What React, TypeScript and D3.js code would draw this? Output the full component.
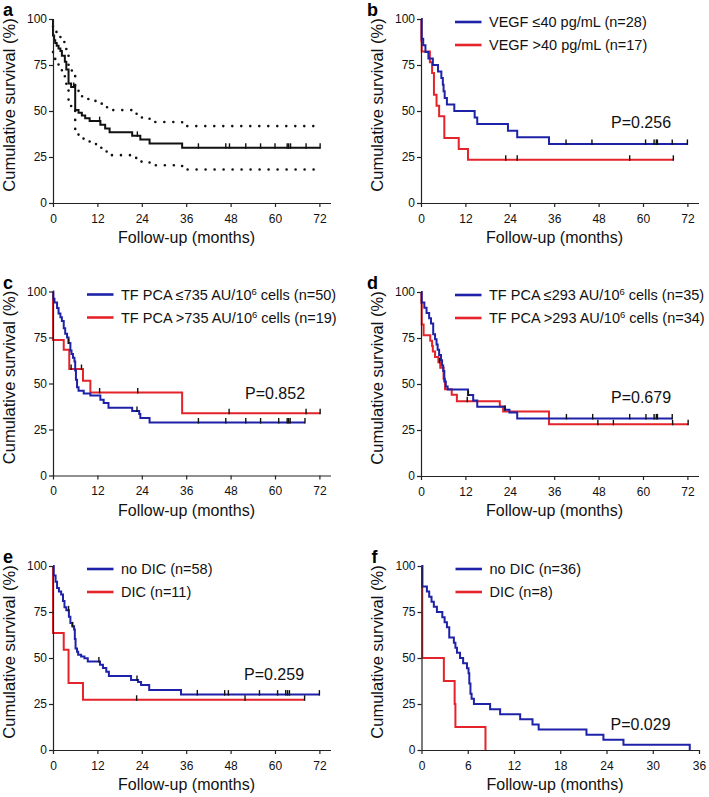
import React, { useEffect, useRef } from 'react';
import * as d3 from 'd3';

const BLUE = '#1e22a8';
const RED = '#e4232a';
const BLACK = '#111';
const FONT = '"Liberation Sans", Arial, Helvetica, sans-serif';

const yTicks = [0, 25, 50, 75, 100];
const xTicks72 = [0, 12, 24, 36, 48, 60, 72];
const xTicks36 = [0, 6, 12, 18, 24, 30, 36];

// a: whole cohort with 95% CI
const aTimes = [0, 0.3, 0.6, 1.0, 1.5, 2.0, 2.4, 3.2, 3.6, 4.2, 4.9, 6.0, 6.9, 7.8, 8.7, 9.9, 12.8, 14.1, 15.3, 21.4, 23.6, 26.1, 34.9];
const aSurv = [91, 88.4, 87, 85.5, 84, 82.6, 80, 76.8, 72.5, 65, 63, 50.5, 49, 47.5, 46, 44.5, 42.5, 40.5, 38.5, 36.5, 34.5, 32.3, 30];
const aUpper = [96, 94, 93, 92, 91, 90, 87.5, 85, 81, 74, 72, 61, 59, 58, 56.5, 55.5, 54, 52, 50.5, 48.5, 46.5, 44, 41.8];
const aLower = [82, 79, 78, 76.5, 75, 73, 70.5, 67, 62, 54, 52, 38, 36.5, 35, 33.5, 32, 30, 28, 26, 24.5, 22.5, 20.5, 18.2];
const aCensor = [5.6, 12.6, 22.8, 39.3, 46.7, 47.7, 52.1, 56.1, 60, 63.3, 63.7, 64.2, 68.4, 72.2];

// b: VEGF
const bBlueTimes = [0.2, 0.6, 1.2, 2.0, 3.2, 4.6, 5.5, 5.9, 6.1, 6.4, 7.0, 9.0, 14.5, 15.2, 23.5, 26.0, 34.6];
const bBlueSurv = [89.3, 85.7, 82.1, 78.6, 75, 71.4, 67.9, 64.3, 60.7, 57.1, 53.6, 50, 46.4, 42.9, 39.3, 35.7, 32.1];
const bBlueCensor = [39.2, 46.2, 60.7, 63.0, 63.6, 63.9, 67.9, 72];
const bRedTimes = [0.1, 0.2, 2.4, 3.0, 3.5, 4.2, 4.9, 6.3, 10.2, 12.7];
const bRedSurv = [88.2, 82.4, 76.5, 70.6, 58.8, 52.9, 47.1, 35.3, 29.4, 23.5];
const bRedCensor = [22.9, 26.0, 56.4, 68.2];

// c: TF PCA 735
const cBlueTimes = [0.1, 0.4, 1.1, 1.5, 2.0, 2.4, 2.9, 3.3, 3.8, 4.2, 4.7, 5.0, 5.4, 5.8, 6.0, 6.2, 6.5, 6.9, 8.3, 10.1, 12.8, 13.7, 15.0, 21.4, 23.3, 23.6, 26.1];
const cBlueSurv = [96, 94, 91, 88, 86, 84, 80, 77, 75, 72, 68, 66, 64, 62, 57, 52, 48, 46, 44.5, 43.5, 41.2, 39.4, 36.8, 35, 33.4, 31.3, 28.8];
const cBlueCensor = [4.2, 22.7, 39.3, 46.7, 52.1, 56.1, 61, 63.3, 63.7, 64.1, 68.1];
const cRedTimes = [0, 2.9, 4.4, 8.1, 10.1, 34.9];
const cRedSurv = [73.7, 68.4, 57.9, 51.5, 45.1, 33.8];
const cRedCensor = [4.9, 7.7, 12.6, 22.9, 47.6, 68.4, 72.2];

// d: TF PCA 293
const dBlueTimes = [0.2, 0.9, 1.5, 2.2, 2.7, 3.3, 3.8, 4.2, 4.5, 4.9, 5.4, 5.7, 6.0, 6.3, 6.7, 7.2, 12.7, 14.1, 15.2, 22.7, 23.9, 26.0];
const dBlueSurv = [94.3, 91.4, 88.6, 85.7, 82.9, 77.1, 74.3, 71.4, 68.6, 65.7, 62.9, 60, 57.1, 51.4, 48.6, 47, 44, 41, 37.6, 36, 34.5, 31.3];
const dBlueCensor = [12.8, 22.7, 39.3, 46.4, 56.4, 60.8, 63.0, 63.6, 63.9, 67.9];
const dRedTimes = [0.1, 0.2, 0.7, 2.5, 3.0, 3.2, 3.8, 4.7, 5.2, 6.1, 6.5, 8.3, 9.7, 21.3, 22.2, 34.6];
const dRedSurv = [94.1, 82.4, 76.5, 73.5, 70.6, 67.6, 64.7, 61.8, 58.8, 52.9, 47.1, 44.1, 40.6, 37.8, 35.1, 28.1];
const dRedCensor = [5.0, 12.5, 47.8, 52.0, 68.0, 72.2];

// e: DIC, whole follow-up
const eBlueTimes = [0.2, 0.7, 1.1, 1.6, 2.2, 2.7, 3.1, 3.6, 4.3, 4.7, 5.2, 5.7, 5.9, 6.1, 6.5, 6.8, 7.6, 8.5, 9.4, 12.7, 13.5, 14.4, 15.1, 21.1, 23.0, 23.8, 26.0, 34.6];
const eBlueSurv = [94.8, 91.4, 88, 86.2, 84.5, 81, 77.6, 75.9, 72.4, 69, 67.2, 65.5, 60.3, 55.2, 53.4, 51.7, 50.8, 49.9, 48.1, 46.3, 44.5, 42.5, 40.2, 38.0, 37.0, 35.3, 32.6, 30.1];
const eBlueCensor = [4.2, 5.3, 12.4, 22.7, 39.0, 46.4, 47.4, 55.8, 60.7, 62.9, 63.4, 63.9, 72];
const eRedTimes = [0, 2.9, 4.2, 8.1];
const eRedSurv = [63.6, 54.5, 36.4, 27.3];
const eRedCensor = [22.6, 51.9, 68];

// f: DIC, 36 months
const fBlueTimes = [0.1, 0.7, 1.0, 1.3, 1.6, 2.0, 2.7, 3.0, 3.3, 3.6, 4.2, 4.4, 4.6, 5.0, 5.4, 5.9, 6.1, 6.2, 6.35, 6.5, 6.8, 8.9, 10.2, 12.8, 14.4, 15.2, 21.4, 23.6, 26.2, 34.8];
const fBlueSurv = [88.9, 86.1, 83.3, 80.6, 77.8, 75, 72.2, 69.4, 66.7, 61.1, 58.3, 55.6, 52.8, 50, 47.2, 44.4, 41.7, 36.1, 30.6, 27.8, 25, 22.2, 19.4, 16.7, 13.9, 11.1, 8.3, 5.6, 2.8, 0];
const fRedTimes = [0.1, 2.9, 4.3, 4.4, 8.3];
const fRedSurv = [50, 37.5, 25, 12.5, 0];

const legendB = ['VEGF ≤40 pg/mL (n=28)', 'VEGF >40 pg/mL (n=17)'];
const legendC = ['TF PCA ≤735 AU/10^6 cells (n=50)', 'TF PCA >735 AU/10^6 cells (n=19)'];
const legendD = ['TF PCA ≤293 AU/10^6 cells (n=35)', 'TF PCA >293 AU/10^6 cells (n=34)'];
const legendE = ['no DIC (n=58)', 'DIC (n=11)'];
const legendF = ['no DIC (n=36)', 'DIC (n=8)'];

const PW = 277.5;
const PH = 184;

const App = () => {
  const svgRef = useRef(null);

  useEffect(() => {
    const svg = d3.select(svgRef.current);
    svg.selectAll('*').remove();

    const panels = [
      { id: 'a', left: 53, top: 19, xMax: 75, ticks: xTicks72, lx: -50,
        curves: [{ times: aTimes, surv: aSurv, censor: aCensor, color: BLACK }],
        bands: [aUpper, aLower], legend: [], p: null },
      { id: 'b', left: 421, top: 19, xMax: 75, ticks: xTicks72, lx: -54,
        curves: [
          { times: bBlueTimes, surv: bBlueSurv, censor: bBlueCensor, color: BLUE },
          { times: bRedTimes, surv: bRedSurv, censor: bRedCensor, color: RED }],
        bands: [], legend: legendB, p: { text: 'P=0.256', dx: 190, dy: 109 } },
      { id: 'c', left: 53, top: 291.5, xMax: 75, ticks: xTicks72, lx: -50,
        curves: [
          { times: cBlueTimes, surv: cBlueSurv, censor: cBlueCensor, color: BLUE },
          { times: cRedTimes, surv: cRedSurv, censor: cRedCensor, color: RED }],
        bands: [], legend: legendC, p: { text: 'P=0.852', dx: 192, dy: 107 } },
      { id: 'd', left: 421, top: 292, xMax: 75, ticks: xTicks72, lx: -54,
        curves: [
          { times: dBlueTimes, surv: dBlueSurv, censor: dBlueCensor, color: BLUE },
          { times: dRedTimes, surv: dRedSurv, censor: dRedCensor, color: RED }],
        bands: [], legend: legendD, p: { text: 'P=0.679', dx: 190, dy: 111 } },
      { id: 'e', left: 53, top: 566, xMax: 75, ticks: xTicks72, lx: -50,
        curves: [
          { times: eBlueTimes, surv: eBlueSurv, censor: eBlueCensor, color: BLUE },
          { times: eRedTimes, surv: eRedSurv, censor: eRedCensor, color: RED }],
        bands: [], legend: legendE, p: { text: 'P=0.259', dx: 191, dy: 114 } },
      { id: 'f', left: 421.5, top: 566, xMax: 36, ticks: xTicks36, lx: -50,
        curves: [
          { times: fBlueTimes, surv: fBlueSurv, censor: [], color: BLUE },
          { times: fRedTimes, surv: fRedSurv, censor: [], color: RED }],
        bands: [], legend: legendF, p: { text: 'P=0.029', dx: 189, dy: 164 } },
    ];

    panels.forEach(p => {
      const g = svg.append('g');
      const x = d3.scaleLinear().domain([0, p.xMax]).range([p.left, p.left + PW]);
      const y = d3.scaleLinear().domain([0, 100]).range([p.top + PH, p.top]);

      const step = d3.line()
        .x(d => x(d[0]))
        .y(d => y(d[1]))
        .curve(d3.curveStepAfter);

      const endOf = c => Math.max(c.times[c.times.length - 1], ...(c.censor.length ? c.censor : [0]));

      // confidence bands (dotted)
      p.bands.forEach(vals => {
        const c = p.curves[0];
        const pts = c.times.map((t, i) => [t, vals[i]]);
        pts.push([endOf(c), vals[vals.length - 1]]);
        g.append('path')
          .attr('d', step(pts))
          .attr('fill', 'none')
          .attr('stroke', BLACK)
          .attr('stroke-width', 2.6)
          .attr('stroke-linecap', 'round')
          .attr('stroke-dasharray', '0 9');
      });

      // survival curves, last group drawn on top
      p.curves.slice().reverse().forEach(c => {
        const pts = [[0, 100], ...c.times.map((t, i) => [t, c.surv[i]])];
        pts.push([endOf(c), c.surv[c.surv.length - 1]]);
        g.append('path')
          .attr('d', step(pts))
          .attr('fill', 'none')
          .attr('stroke', c.color)
          .attr('stroke-width', 2);
      });

      p.curves.forEach(c => {
        const survAt = t => {
          let s = 100;
          c.times.forEach((tt, i) => { if (tt <= t) s = c.surv[i]; });
          return s;
        };
        g.selectAll(null)
          .data(c.censor)
          .enter()
          .append('line')
          .attr('x1', d => x(d))
          .attr('x2', d => x(d))
          .attr('y1', d => y(survAt(d)) - 4.5)
          .attr('y2', d => y(survAt(d)) + 1)
          .attr('stroke', BLACK)
          .attr('stroke-width', 1.4);
      });

      // axes
      const yAxis = g.append('g')
        .attr('transform', `translate(${p.left},0)`)
        .call(d3.axisLeft(y).tickValues(yTicks).tickSize(4).tickSizeOuter(0).tickPadding(2));
      const xAxis = g.append('g')
        .attr('transform', `translate(0,${p.top + PH})`)
        .call(d3.axisBottom(x).tickValues(p.ticks).tickSize(4).tickSizeOuter(0).tickPadding(7));
      [yAxis, xAxis].forEach(ax => {
        ax.select('.domain').attr('stroke', '#222').attr('stroke-width', 1.2);
        ax.selectAll('.tick line').attr('stroke', '#222').attr('stroke-width', 1.2);
        ax.selectAll('.tick text')
          .attr('fill', '#111')
          .attr('font-family', FONT)
          .attr('font-size', 12);
      });

      g.append('text')
        .attr('x', p.left + 133.5)
        .attr('y', p.top + PH + 40)
        .attr('text-anchor', 'middle')
        .attr('font-family', FONT)
        .attr('font-size', 16)
        .attr('fill', '#111')
        .text('Follow-up (months)');

      g.append('text')
        .attr('transform', `translate(${p.left - 38.5},${p.top + 86}) rotate(-90)`)
        .attr('text-anchor', 'middle')
        .attr('font-family', FONT)
        .attr('font-size', 16.5)
        .attr('fill', '#111')
        .text('Cumulative survival (%)');

      g.append('text')
        .attr('x', p.left + p.lx)
        .attr('y', p.top - 3)
        .attr('font-family', FONT)
        .attr('font-size', 18)
        .attr('font-weight', 'bold')
        .attr('fill', '#000')
        .text(p.id);

      // legend
      p.legend.forEach((label, i) => {
        const ly = p.top + 3 + i * 23;
        g.append('line')
          .attr('x1', p.left + 34)
          .attr('x2', p.left + 60.5)
          .attr('y1', ly)
          .attr('y2', ly)
          .attr('stroke', p.curves[i].color)
          .attr('stroke-width', 2.6);
        const t = g.append('text')
          .attr('x', p.left + 68)
          .attr('y', ly + 5)
          .attr('font-family', FONT)
          .attr('font-size', 14.5)
          .attr('fill', '#111');
        const parts = label.split('^6');
        t.append('tspan').text(parts[0]);
        if (parts.length > 1) {
          t.append('tspan').attr('dy', -5).attr('font-size', 9.5).text('6');
          t.append('tspan').attr('dy', 5).text(parts[1]);
        }
      });

      if (p.p) {
        g.append('text')
          .attr('x', p.left + p.p.dx)
          .attr('y', p.top + p.p.dy)
          .attr('font-family', FONT)
          .attr('font-size', 16)
          .attr('fill', '#111')
          .text(p.p.text);
      }
    });
  }, []);

  return (
    <svg ref={svgRef} width={709} height={797}
      style={{ position: 'absolute', left: 0, top: 0, background: '#fff' }} />
  );
};

export default App;
